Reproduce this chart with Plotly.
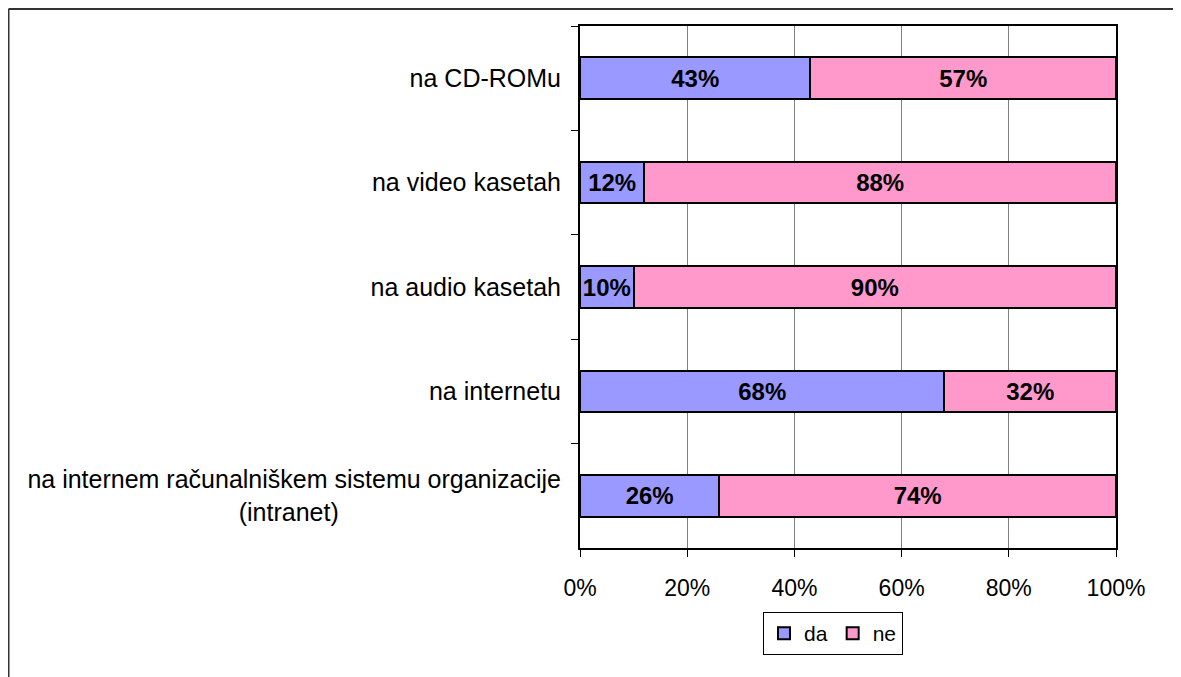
import plotly.graph_objects as go

# data (percent of respondents)
categories = [
    "na CD-ROMu",
    "na video kasetah",
    "na audio kasetah",
    "na internetu",
    "na internem računalniškem sistemu organizacije<br>(intranet)" + "\u00a0" * 32,
]
da_values = [43, 12, 10, 68, 26]
ne_values = [57, 88, 90, 32, 74]
x_ticks = [0, 20, 40, 60, 80, 100]
x_tick_labels = ["0%", "20%", "40%", "60%", "80%", "100%"]

FONT = "Liberation Sans, Arial, sans-serif"

# page body adds an 8px offset, so the figure is sized/margined for that
W, H = 1173, 669
ML, MR, MT, MB = 572, 65, 18, 129
PW, PH = W - ML - MR, H - MT - MB

fig = go.Figure()
for name, vals, col in [("da", da_values, "#9999FF"), ("ne", ne_values, "#FF99CC")]:
    fig.add_trace(go.Bar(
        y=categories, x=vals, name=name, orientation="h",
        marker=dict(color=col, line=dict(color="black", width=2)),
        texttemplate="<b>%{x}%</b>", textposition="inside",
        insidetextanchor="middle", textangle=0, constraintext="none",
        textfont=dict(family=FONT, size=24, color="black"),
        hoverinfo="skip",
    ))

fig.update_layout(
    width=W, height=H,
    barmode="stack", bargap=0.6,
    margin=dict(l=ML, r=MR, t=MT, b=MB),
    paper_bgcolor="white", plot_bgcolor="white",
    font=dict(family=FONT, size=24, color="black"),
    legend=dict(
        orientation="h", x=0.472, xanchor="center", y=-64 / PH, yanchor="top",
        bordercolor="black", borderwidth=1, font=dict(size=21),
        itemwidth=30, traceorder="normal",
    ),
    xaxis=dict(
        range=[0, 100], tickvals=x_ticks, ticktext=x_tick_labels,
        tickfont=dict(size=23),
        showgrid=True, gridcolor="#808080", gridwidth=1,
        showline=True, linecolor="black", linewidth=2, mirror=True,
        ticks="outside", ticklen=7, tickcolor="black",
        ticklabelstandoff=11, zeroline=False,
    ),
    yaxis=dict(
        categoryorder="array", categoryarray=categories, autorange="reversed",
        tickfont=dict(size=25),
        showline=True, linecolor="black", linewidth=2, mirror=True,
        ticks="outside", ticklen=7, tickcolor="black", tickson="boundaries",
        ticklabelstandoff=12, showgrid=False,
    ),
    shapes=[
        dict(type="line", xref="paper", yref="paper",
             x0=(0.5 - ML) / PW, x1=(W - ML) / PW,
             y0=1 + (MT - 1) / PH, y1=1 + (MT - 1) / PH,
             line=dict(color="#333333", width=2)),
        dict(type="line", xref="paper", yref="paper",
             x0=(0.5 - ML) / PW, x1=(0.5 - ML) / PW,
             y0=1 + (MT - 1) / PH, y1=-(MB / PH),
             line=dict(color="#333333", width=2)),
    ],
)

fig.write_html("out.html")
